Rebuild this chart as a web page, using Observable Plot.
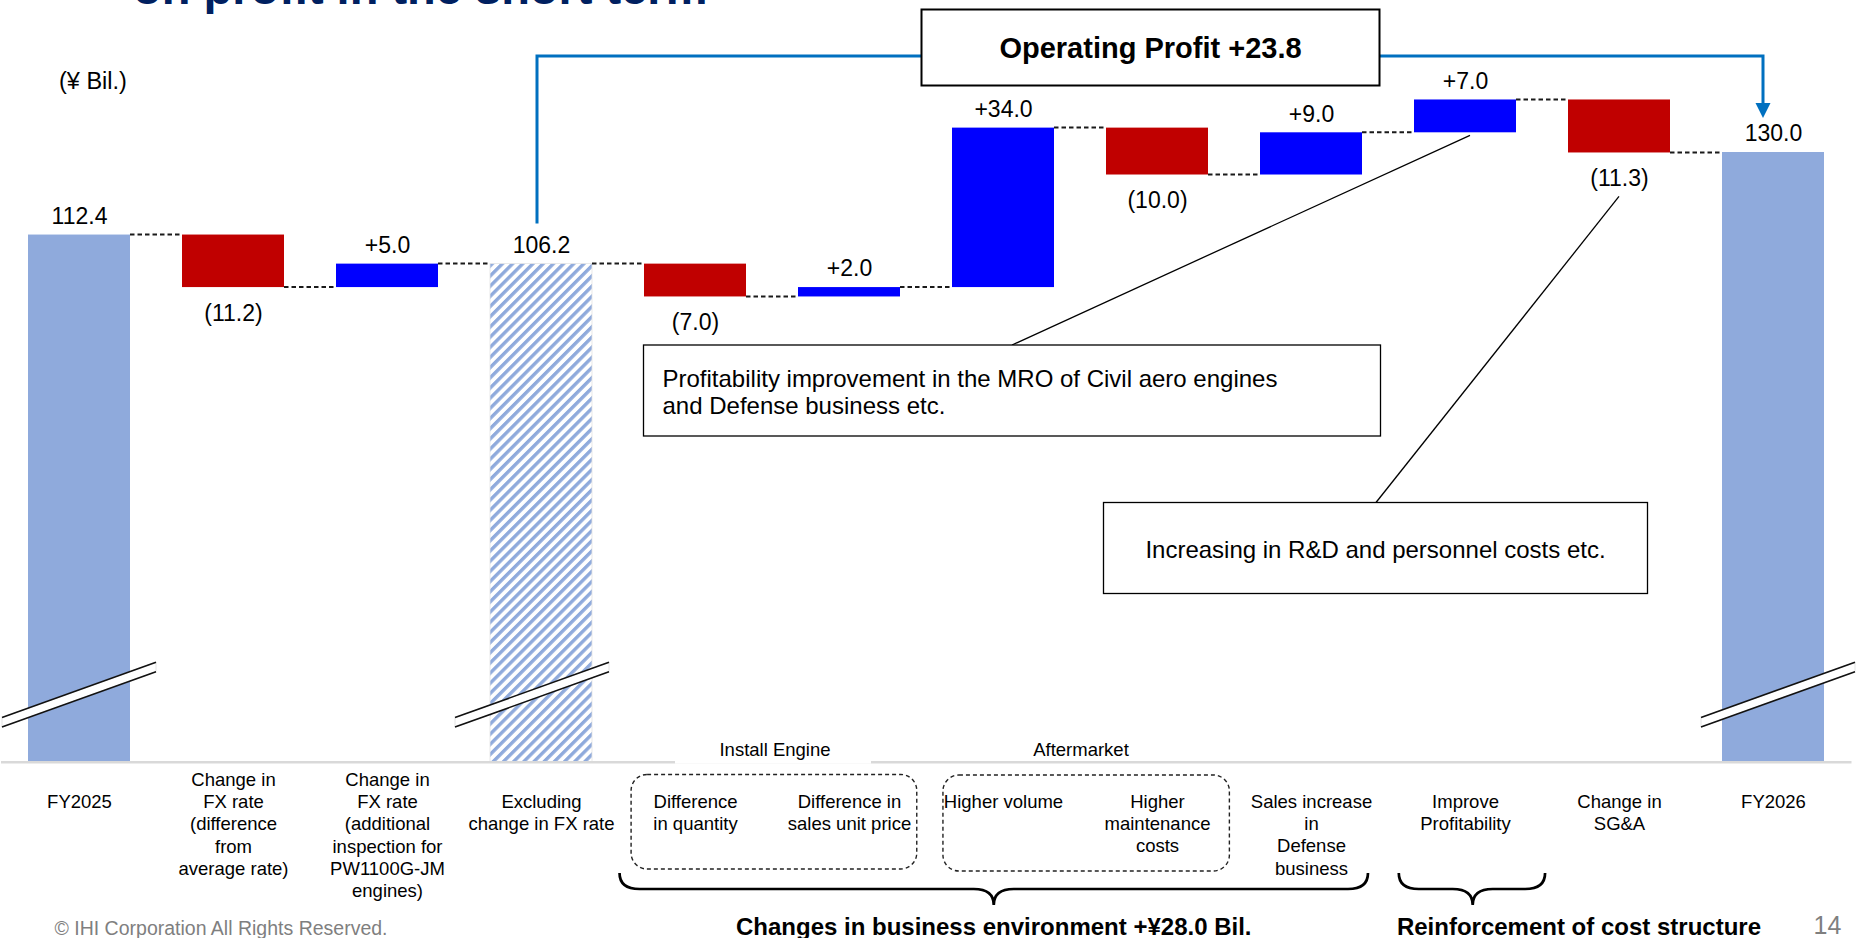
<!DOCTYPE html>
<html>
<head>
<meta charset="utf-8">
<script src="https://cdn.jsdelivr.net/npm/d3@7"></script>
<script src="https://cdn.jsdelivr.net/npm/@observablehq/plot@0.6"></script>
<style>
  html, body { margin: 0; padding: 0; background: #fff; overflow: hidden; }
  #chart svg { display: block; }
</style>
</head>
<body>
<div id="chart"></div>
<script>
// ---------------- data ----------------
const categories = [
  "FY2025",
  "Change in\nFX rate\n(difference\nfrom\naverage rate)",
  "Change in\nFX rate\n(additional\ninspection for\nPW1100G-JM\nengines)",
  "Excluding\nchange in FX rate",
  "Difference\nin quantity",
  "Difference in\nsales unit price",
  "Higher volume",
  "Higher\nmaintenance\ncosts",
  "Sales increase\nin\nDefense\nbusiness",
  "Improve\nProfitability",
  "Change in\nSG&A",
  "FY2026"
];
const values = [112.4, -11.2, 5.0, 106.2, -7.0, 2.0, 34.0, -10.0, 9.0, 7.0, -11.3, 130.0];
const kinds  = ["total", "change", "change", "subtotal", "change", "change", "change", "change", "change", "change", "change", "total"];
const unitNote = "(¥ Bil.)";
const headline = "Operating Profit +23.8";
const subGroups = [
  {label: "Install Engine", first: 4, last: 5},
  {label: "Aftermarket", first: 6, last: 7}
];
const braceGroups = [
  {label: "Changes in business environment +¥28.0 Bil.", first: 4, last: 8},
  {label: "Reinforcement of cost structure", first: 9, last: 9}
];
const callouts = [
  {lines: ["Profitability improvement in the MRO of Civil aero engines", "and Defense business etc."], from: 9},
  {lines: ["Increasing in R&D and personnel costs etc."], from: 10}
];
const pageTitle = "on profit in the short term";
const footer = "© IHI Corporation All Rights Reserved.";
const pageNumber = "14";

// ---------------- styling / layout ----------------
const FONT = "Arial, 'Liberation Sans', sans-serif";
const C = {
  total: "#8FAADC", up: "#0000FF", down: "#C00000", connector: "#1a1a1a",
  axis: "#D9D9D9", accent: "#0070C0", title: "#002060", muted: "#7F7F7F"
};
const W = 1860, H = 938;
const M = {top: 11.3, right: 8.5, bottom: 176.3, left: 1};
const Y_MAX = 160;
const BREAK_LEVEL = 14.3;

// ---------------- derived waterfall rows ----------------
const fmt = d3.format(".1f");
let level = 0;
const rows = values.map((v, i) => {
  const kind = kinds[i];
  const start = kind === "change" ? level : 0;
  const end = kind === "change" ? level + v : v;
  level = end;
  const text = kind === "change" ? (v < 0 ? `(${fmt(-v)})` : `+${fmt(v)}`) : fmt(v);
  return {i, v, kind, start, end, lo: Math.min(start, end), hi: Math.max(start, end), label: categories[i], text};
});

// ---------------- custom SVG layers drawn through Plot's scales ----------------
function defsLayer() {
  const g = d3.create("svg:g");
  const p = g.append("defs").append("pattern")
    .attr("id", "hatch").attr("patternUnits", "userSpaceOnUse")
    .attr("width", 7.2).attr("height", 7.2).attr("patternTransform", "rotate(45)");
  p.append("rect").attr("width", 7.2).attr("height", 7.2).attr("fill", "#fff");
  p.append("rect").attr("width", 3.4).attr("height", 7.2).attr("fill", C.total);
  return g.node();
}

function overlay(index, scales) {
  const sx = scales.x, sy = scales.y;
  const bw = sx.bandwidth(), step = sx.step();
  const xc = i => sx(i) + bw / 2;
  const g = d3.create("svg:g").attr("font-family", FONT).attr("text-anchor", "start");

  // page title (cut by top edge)
  g.append("text").attr("x", 133).attr("y", 4).attr("font-size", 47).attr("font-weight", "bold")
    .attr("text-anchor", "start").attr("fill", C.title).text(pageTitle);

  // dashed connectors between bars
  for (let i = 0; i < rows.length - 1; i++) {
    const y = sy(rows[i].end);
    g.append("line").attr("x1", sx(i) + bw).attr("x2", sx(i + 1)).attr("y1", y).attr("y2", y)
      .attr("stroke", C.connector).attr("stroke-width", 2).attr("stroke-dasharray", "4.5,3");
  }

  // axis break marks
  const breaks = [{i: 0, shift: 0}, {i: 3, shift: -9}, {i: 11, shift: 5}];
  for (const b of breaks) {
    const cx = xc(b.i) + b.shift, cy = sy(BREAK_LEVEL);
    const half = 77, rise = half * 0.36, gap = 4.75;
    g.append("polygon")
      .attr("points", [[cx - half, cy + rise - gap], [cx + half, cy - rise - gap], [cx + half, cy - rise + gap], [cx - half, cy + rise + gap]].join(" "))
      .attr("fill", "#fff").attr("stroke", "#ddd").attr("stroke-width", 0.8);
    for (const s of [-1, 1]) {
      g.append("line").attr("x1", cx - half).attr("y1", cy + rise + s * gap)
        .attr("x2", cx + half).attr("y2", cy - rise + s * gap)
        .attr("stroke", "#111").attr("stroke-width", 1.6);
    }
  }

  // operating profit bracket arrow
  const lx = xc(3) - 4, rx = xc(11) - 10, topY = 56;
  const lBottom = sy(rows[3].hi) - 40, tipY = sy(rows[11].hi) - 34;
  g.append("path").attr("d", `M${lx},${lBottom}V${topY}H${rx}V${tipY - 12}`)
    .attr("fill", "none").attr("stroke", C.accent).attr("stroke-width", 3);
  g.append("polygon").attr("points", [[rx - 7.5, tipY - 15], [rx + 7.5, tipY - 15], [rx, tipY]].join(" "))
    .attr("fill", C.accent);
  g.append("rect").attr("x", 921.5).attr("y", 9.5).attr("width", 458).attr("height", 76)
    .attr("fill", "#fff").attr("stroke", "#000").attr("stroke-width", 2);
  g.append("text").attr("x", 1150.5).attr("y", 48).attr("dy", "0.35em").attr("text-anchor", "middle")
    .attr("font-size", 29).attr("font-weight", "bold").text(headline);

  // callouts
  const c1 = callouts[0], c2 = callouts[1];
  g.append("line").attr("x1", xc(c1.from) + 5).attr("y1", sy(rows[c1.from].lo) + 3)
    .attr("x2", 1012).attr("y2", 345).attr("stroke", "#000").attr("stroke-width", 1.3);
  g.append("line").attr("x1", xc(c2.from)).attr("y1", sy(rows[c2.from].lo) + 44)
    .attr("x2", 1376).attr("y2", 502.5).attr("stroke", "#000").attr("stroke-width", 1.3);
  g.append("rect").attr("x", 643.5).attr("y", 345).attr("width", 737).attr("height", 91)
    .attr("fill", "#fff").attr("stroke", "#000").attr("stroke-width", 1.3);
  c1.lines.forEach((t, k) => g.append("text").attr("x", 662.5).attr("y", 378.3 + k * 27.7)
    .attr("dy", "0.35em").attr("text-anchor", "start").attr("font-size", 24).text(t));
  g.append("rect").attr("x", 1103.5).attr("y", 502.5).attr("width", 544).attr("height", 91)
    .attr("fill", "#fff").attr("stroke", "#000").attr("stroke-width", 1.3);
  c2.lines.forEach((t, k) => g.append("text").attr("x", 1375.5).attr("y", 550 + k * 27.7)
    .attr("dy", "0.35em").attr("text-anchor", "middle").attr("font-size", 24).text(t));

  // sub-group labels and dashed boxes
  const y0 = sy(0);
  const boxSpec = [{l: -0.415, r: 0.44, t: 774.5, b: 869}, {l: -0.39, r: 0.47, t: 775, b: 871}];
  subGroups.forEach((sg, k) => {
    const mid = (xc(sg.first) + xc(sg.last)) / 2;
    if (k === 0) {
      g.append("rect").attr("x", mid - 97).attr("y", y0 - 25).attr("width", 196).attr("height", 27).attr("fill", "#fff");
    }
    g.append("text").attr("x", mid + (k === 0 ? 3 : 1)).attr("y", y0 - 12.5).attr("dy", "0.35em")
      .attr("text-anchor", "middle").attr("font-size", 18.5).text(sg.label);
    const s = boxSpec[k];
    const x1 = xc(sg.first) + s.l * step, x2 = xc(sg.last) + s.r * step;
    g.append("rect").attr("x", x1).attr("y", s.t).attr("width", x2 - x1).attr("height", s.b - s.t)
      .attr("rx", 16).attr("fill", "none").attr("stroke", "#222").attr("stroke-width", 1.4)
      .attr("stroke-dasharray", "4,3");
  });

  // braces and group labels
  const braceSpec = [{l: -0.49, r: 0.37, tip: null, lab: null}, {l: -0.43, r: 0.52, tip: 0.05, lab: 0.74}];
  braceGroups.forEach((bg, k) => {
    const s = braceSpec[k];
    const L = xc(bg.first) + s.l * step, R = xc(bg.last) + s.r * step;
    const T = s.tip == null ? (L + R) / 2 : xc(bg.first) + s.tip * step;
    const yt = 873, ym = 889, yp = 905;
    const r = 20;
    g.append("path")
      .attr("d", `M${L},${yt}Q${L},${ym} ${L + r},${ym}L${T - r},${ym}Q${T},${ym} ${T},${yp}Q${T},${ym} ${T + r},${ym}L${R - r},${ym}Q${R},${ym} ${R},${yt}`)
      .attr("fill", "none").attr("stroke", "#000").attr("stroke-width", 2.7);
    const lxp = s.lab == null ? T : xc(bg.first) + s.lab * step;
    g.append("text").attr("x", lxp).attr("y", 926.5).attr("dy", "0.35em").attr("text-anchor", "middle")
      .attr("font-size", 24).attr("font-weight", "bold").text(bg.label);
  });

  // unit note, footer, page number
  g.append("text").attr("x", 59).attr("y", 80.5).attr("dy", "0.35em").attr("text-anchor", "start")
    .attr("font-size", 23.5).text(unitNote);
  g.append("text").attr("x", 54.5).attr("y", 928.5).attr("dy", "0.35em").attr("text-anchor", "start")
    .attr("font-size", 19.5).attr("fill", C.muted).text(footer);
  g.append("text").attr("x", 1813.5).attr("y", 925).attr("dy", "0.35em").attr("text-anchor", "start")
    .attr("font-size", 25).attr("fill", C.muted).text(pageNumber);

  return g.node();
}

// ---------------- plot ----------------
const shortLabels = rows.filter(d => d.label.split("\n").length < 5);
const longLabels = rows.filter(d => d.label.split("\n").length >= 5);

const chart = Plot.plot({
  width: W, height: H,
  marginTop: M.top, marginRight: M.right, marginBottom: M.bottom, marginLeft: M.left,
  style: {fontFamily: FONT, background: "#fff", color: "#000", overflow: "visible"},
  x: {type: "band", domain: d3.range(categories.length), paddingInner: 0.339, paddingOuter: 0.17, axis: null},
  y: {domain: [0, Y_MAX], axis: null},
  marks: [
    defsLayer,
    Plot.barY(rows.filter(d => d.kind === "total"), {x: "i", y1: "start", y2: "end", fill: C.total}),
    Plot.barY(rows.filter(d => d.kind === "subtotal"), {x: "i", y1: "start", y2: "end", fill: "url(#hatch)", stroke: "#e4e4e4", strokeWidth: 0.8}),
    Plot.barY(rows.filter(d => d.kind === "change" && d.v > 0), {x: "i", y1: "start", y2: "end", fill: C.up}),
    Plot.barY(rows.filter(d => d.kind === "change" && d.v < 0), {x: "i", y1: "start", y2: "end", fill: C.down}),
    Plot.ruleY([0], {stroke: C.axis, strokeWidth: 2.5}),
    overlay,
    Plot.text(rows.filter(d => d.v > 0), {x: "i", y: "hi", text: "text", dy: -18.5, fontSize: 23, lineAnchor: "middle", fill: "#000"}),
    Plot.text(rows.filter(d => d.v < 0), {x: "i", y: "lo", text: "text", dy: 26, fontSize: 23, lineAnchor: "middle", fill: "#000"}),
    Plot.text(shortLabels, {x: "i", y: () => 0, text: "label", dy: 30, fontSize: 18.5, lineAnchor: "top", lineHeight: 1.2, fill: "#000"}),
    Plot.text(longLabels, {x: "i", y: () => 0, text: "label", dy: 8, fontSize: 18.5, lineAnchor: "top", lineHeight: 1.2, fill: "#000"})
  ]
});
document.getElementById("chart").appendChild(chart);
</script>
</body>
</html>
